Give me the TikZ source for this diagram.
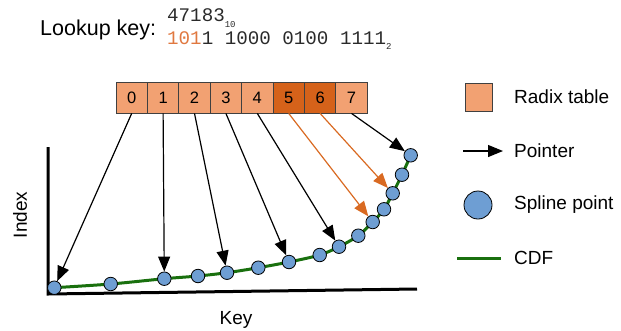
\documentclass[tikz,border=0pt]{standalone}
\usepackage{fontspec}
\setmainfont{Liberation Sans}
\setmonofont{Liberation Mono}
\usetikzlibrary{arrows.meta}
\definecolor{cellLight}{HTML}{F2A172}
\definecolor{cellDark}{HTML}{D5621A}
\definecolor{ptrOrange}{HTML}{D96A22}
\definecolor{bitOrange}{HTML}{E07840}
\definecolor{splBlue}{HTML}{6E9ED3}
\definecolor{cdfGreen}{HTML}{19700E}
\definecolor{monoGray}{HTML}{2A2A2A}
\begin{document}
\begin{tikzpicture}[x=1pt,y=-1pt,
  cellbox/.style={draw=black!75, line width=0.8pt, fill=cellLight, minimum width=31.4pt, minimum height=31pt, inner sep=0pt, font=\fontsize{16.5}{17}\selectfont},
  darkcell/.style={cellbox, fill=cellDark},
  spl/.style={circle, draw=black, fill=splBlue, minimum size=13.5pt, inner sep=0pt, line width=0.8pt},
  ptr/.style={-{Triangle[length=15pt,width=12pt]}, line width=1.2pt, draw=black},
  optr/.style={ptr, draw=ptrOrange, -{Triangle[length=15pt,width=12pt,fill=ptrOrange]}},
  lbl/.style={font=\fontsize{19}{20}\selectfont, inner sep=0pt},
  axis/.style={line width=3pt, line join=miter},
  cdf/.style={draw=cdfGreen, line width=3pt}
]
\useasboundingbox (0,0) rectangle (621,330);

% lookup key
\node[anchor=base west, inner sep=0pt, font=\fontsize{21.5}{22}\selectfont] (lk) at (40,35) {Lookup key:};
\node[anchor=base west, inner sep=0pt, text=monoGray, font=\fontsize{19.2}{20}\ttfamily] (dec) at (167,21)
  {47183\raisebox{-6pt}{\fontsize{9}{9}\selectfont 10}};
\node[anchor=base west, inner sep=0pt, text=monoGray, font=\fontsize{19.2}{20}\ttfamily] (bin) at (167,44)
  {\textcolor{bitOrange}{101}1 1000 0100 1111\raisebox{-5pt}{\fontsize{9}{9}\selectfont 2}};

% radix table
\foreach \i in {0,...,4} {
  \node[cellbox] (c\i) at ({131.7+31.4*\i},97.5) {\i};
}
\node[darkcell] (c5) at ({131.7+31.4*5},97.5) {5};
\node[darkcell] (c6) at ({131.7+31.4*6},97.5) {6};
\node[cellbox] (c7) at ({131.7+31.4*7},97.5) {7};

% axes
\coordinate (ytop) at (48,147);
\coordinate (org) at (48,294);
\coordinate (xend) at (417,289);
\draw[axis] (ytop) -- (org) -- (xend);
\node[lbl, rotate=90] (ylab) at (20,215) {Index};
\node[lbl] (xlab) at (236,320) {Key};

% CDF curve
\draw[cdf] plot[smooth, tension=0.5] coordinates {(54.3,287.7) (110.7,284) (164.3,278.7) (198,276) (227,272.7) (258.3,267.7) (289,262) (319.7,255) (339,246.7) (358.3,235.7) (372.7,222) (384,209.3) (392.7,193.3) (402,174.7) (410.7,155.3)};

% spline points
\node[spl] (p1) at (54.3,287.7) {};
\node[spl] (p2) at (110.7,284) {};
\node[spl] (p3) at (164.3,278.7) {};
\node[spl] (p4) at (198,276) {};
\node[spl] (p5) at (227,272.7) {};
\node[spl] (p6) at (258.3,267.7) {};
\node[spl] (p7) at (289,262) {};
\node[spl] (p8) at (319.7,255) {};
\node[spl] (p9) at (339,246.7) {};
\node[spl] (p10) at (358.3,235.7) {};
\node[spl] (p11) at (372.7,222) {};
\node[spl] (p12) at (384,209.3) {};
\node[spl] (p13) at (392.7,193.3) {};
\node[spl] (p14) at (402,174.7) {};
\node[spl] (p15) at (410.7,155.3) {};

% pointers
\draw[ptr] (c0.south) -- (p1);
\draw[ptr] (c1.south) -- (p3);
\draw[ptr] (c2.south) -- (p5);
\draw[ptr] (c3.south) -- (p7);
\draw[ptr] (c4.south) -- (p9);
\draw[optr] (c5.south) -- (p11);
\draw[optr] (c6.south) -- (p13);
\draw[ptr] (c7.south) -- (p15);

% legend
\node[draw=black!75, line width=0.8pt, fill=cellLight, minimum width=27pt, minimum height=28pt, inner sep=0pt] (lgsq) at (478.5,97) {};
\node[lbl, anchor=west] (lgt1) at (514,97) {Radix table};
\coordinate (la1) at (463,151);
\coordinate (la2) at (503,151);
\draw[ptr] (la1) -- (la2);
\node[lbl, anchor=west] (lgt2) at (514,151) {Pointer};
\node[spl, minimum size=28pt] (lgc) at (478,205) {};
\node[lbl, anchor=west] (lgt3) at (514,205) {Spline point};
\coordinate (lc1) at (457,258);
\coordinate (lc2) at (501,258);
\draw[cdf] (lc1) -- (lc2);
\node[lbl, anchor=west] (lgt4) at (514,258) {CDF};
\end{tikzpicture}
\end{document}
